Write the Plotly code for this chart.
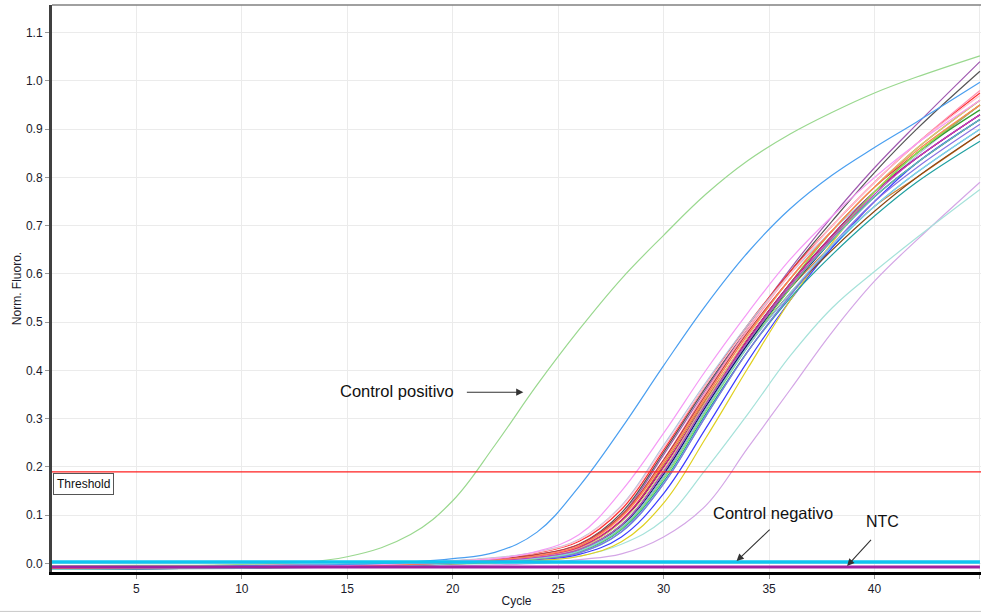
import plotly.graph_objects as go

cycles = [1, 5, 10, 15, 18, 20, 22, 24, 26, 28, 30, 32, 34, 36, 38, 40, 42, 45]

positive_control = [-0.005, -0.004, -0.002, 0.014, 0.06, 0.13, 0.245, 0.37, 0.485, 0.59, 0.68, 0.765, 0.835, 0.89, 0.935, 0.975, 1.008, 1.052]
blue_sample = [-0.006, -0.005, -0.004, -0.002, 0.003, 0.010, 0.023, 0.065, 0.16, 0.28, 0.41, 0.535, 0.645, 0.735, 0.805, 0.862, 0.915, 0.997]
pink_sample = [-0.008, -0.007, -0.006, -0.004, 0.000, 0.004, 0.010, 0.025, 0.06, 0.15, 0.27, 0.40, 0.52, 0.63, 0.72, 0.80, 0.87, 0.96]
teal_late = [-0.010, -0.009, -0.008, -0.006, -0.004, -0.002, 0.000, 0.005, 0.015, 0.04, 0.09, 0.195, 0.31, 0.43, 0.53, 0.605, 0.675, 0.775]
lavender_late = [-0.012, -0.011, -0.010, -0.008, -0.006, -0.005, -0.003, 0.000, 0.008, 0.02, 0.055, 0.12, 0.24, 0.36, 0.48, 0.585, 0.67, 0.79]

cluster_values = {
    "#a05ab0": [-0.010, -0.009, -0.007, -0.004, -0.001, 0.003, 0.008, 0.016, 0.037, 0.100, 0.225, 0.36, 0.49, 0.61, 0.72, 0.82, 0.91, 1.04],
    "#555555": [-0.008, -0.007, -0.006, -0.003, 0.000, 0.004, 0.009, 0.018, 0.040, 0.105, 0.23, 0.365, 0.49, 0.605, 0.71, 0.81, 0.90, 1.02],
    "#ff3030": [-0.006, -0.005, -0.004, -0.002, 0.001, 0.005, 0.011, 0.022, 0.046, 0.112, 0.235, 0.37, 0.495, 0.605, 0.70, 0.79, 0.87, 0.975],
    "#ff8fb0": [-0.009, -0.008, -0.006, -0.004, -0.001, 0.003, 0.008, 0.017, 0.038, 0.100, 0.215, 0.355, 0.485, 0.60, 0.70, 0.79, 0.87, 0.98],
    "#ffa07a": [-0.011, -0.010, -0.008, -0.005, -0.002, 0.002, 0.007, 0.015, 0.035, 0.095, 0.21, 0.345, 0.475, 0.59, 0.69, 0.78, 0.86, 0.96],
    "#b0c4de": [-0.007, -0.006, -0.005, -0.002, 0.001, 0.006, 0.012, 0.024, 0.050, 0.120, 0.245, 0.375, 0.495, 0.60, 0.69, 0.77, 0.845, 0.95],
    "#c04040": [-0.009, -0.008, -0.007, -0.004, 0.000, 0.004, 0.010, 0.019, 0.040, 0.100, 0.215, 0.35, 0.48, 0.59, 0.69, 0.78, 0.85, 0.95],
    "#d08030": [-0.010, -0.009, -0.008, -0.005, -0.002, 0.002, 0.007, 0.015, 0.034, 0.090, 0.205, 0.34, 0.465, 0.57, 0.66, 0.74, 0.80, 0.89],
    "#000000": [-0.012, -0.011, -0.009, -0.006, -0.003, 0.001, 0.006, 0.014, 0.032, 0.088, 0.20, 0.335, 0.465, 0.58, 0.68, 0.77, 0.84, 0.93],
    "#9acd32": [-0.010, -0.009, -0.008, -0.005, -0.002, 0.001, 0.005, 0.011, 0.026, 0.075, 0.18, 0.32, 0.455, 0.58, 0.69, 0.78, 0.86, 0.96],
    "#30a030": [-0.009, -0.008, -0.007, -0.005, -0.002, 0.002, 0.006, 0.013, 0.029, 0.080, 0.19, 0.33, 0.46, 0.58, 0.68, 0.77, 0.85, 0.94],
    "#000080": [-0.011, -0.010, -0.008, -0.006, -0.003, 0.000, 0.005, 0.011, 0.027, 0.077, 0.185, 0.325, 0.455, 0.57, 0.67, 0.76, 0.83, 0.92],
    "#e0109a": [-0.008, -0.007, -0.006, -0.004, -0.001, 0.003, 0.008, 0.015, 0.033, 0.090, 0.20, 0.335, 0.465, 0.58, 0.68, 0.77, 0.84, 0.93],
    "#30c0d0": [-0.010, -0.009, -0.008, -0.005, -0.002, 0.001, 0.004, 0.009, 0.022, 0.065, 0.165, 0.305, 0.44, 0.555, 0.655, 0.74, 0.81, 0.90],
    "#3a3aff": [-0.012, -0.011, -0.009, -0.007, -0.004, -0.001, 0.003, 0.008, 0.019, 0.055, 0.145, 0.28, 0.42, 0.545, 0.655, 0.75, 0.83, 0.92],
    "#e0d020": [-0.011, -0.010, -0.009, -0.007, -0.004, -0.001, 0.002, 0.006, 0.015, 0.045, 0.125, 0.26, 0.405, 0.545, 0.665, 0.77, 0.85, 0.95],
    "#20a0a0": [-0.010, -0.009, -0.008, -0.006, -0.003, 0.000, 0.004, 0.010, 0.024, 0.070, 0.17, 0.31, 0.44, 0.55, 0.64, 0.72, 0.79, 0.875],
    "#8b4513": [-0.009, -0.008, -0.007, -0.005, -0.002, 0.001, 0.005, 0.011, 0.026, 0.075, 0.18, 0.32, 0.45, 0.56, 0.65, 0.73, 0.80, 0.89],
    "#8a70e0": [-0.011, -0.010, -0.009, -0.006, -0.003, 0.000, 0.004, 0.009, 0.022, 0.066, 0.165, 0.305, 0.44, 0.555, 0.66, 0.75, 0.82, 0.91],
    "#e0c080": [-0.008, -0.007, -0.006, -0.004, -0.001, 0.002, 0.007, 0.014, 0.031, 0.086, 0.195, 0.335, 0.47, 0.59, 0.69, 0.78, 0.86, 0.96],
    "#80e060": [-0.010, -0.009, -0.008, -0.006, -0.003, 0.000, 0.004, 0.010, 0.025, 0.072, 0.175, 0.315, 0.45, 0.57, 0.675, 0.77, 0.85, 0.95],
    "#66cdaa": [-0.012, -0.011, -0.010, -0.007, -0.004, 0.000, 0.005, 0.012, 0.028, 0.080, 0.19, 0.33, 0.46, 0.575, 0.67, 0.76, 0.83, 0.92],
    "#ffc0d0": [-0.007, -0.006, -0.005, -0.003, 0.000, 0.005, 0.011, 0.023, 0.049, 0.118, 0.24, 0.37, 0.49, 0.60, 0.70, 0.79, 0.87, 0.97],
    "#87ceeb": [-0.011, -0.010, -0.009, -0.006, -0.003, 0.000, 0.005, 0.011, 0.026, 0.075, 0.18, 0.32, 0.45, 0.56, 0.66, 0.74, 0.81, 0.90],
    "#c040c0": [-0.009, -0.008, -0.007, -0.005, -0.002, 0.002, 0.006, 0.013, 0.029, 0.080, 0.19, 0.33, 0.46, 0.575, 0.675, 0.765, 0.84, 0.93],
    "#ff7f50": [-0.010, -0.009, -0.008, -0.005, -0.002, 0.002, 0.007, 0.016, 0.036, 0.097, 0.21, 0.345, 0.475, 0.59, 0.69, 0.78, 0.855, 0.95],
}

negative_control = [0.003] * len(cycles)
ntc = [-0.007] * len(cycles)

threshold = 0.19
x_ticks = [5, 10, 15, 20, 25, 30, 35, 40, 45]
y_ticks = [0.0, 0.1, 0.2, 0.3, 0.4, 0.5, 0.6, 0.7, 0.8, 0.9, 1.0, 1.1]
y_tick_labels = ["0.0", "0.1", "0.2", "0.3", "0.4", "0.5", "0.6", "0.7", "0.8", "0.9", "1.0", "1.1"]

FONT = "Liberation Sans, Arial, sans-serif"

fig = go.Figure()

def add_curve(vals, color, width=1.2):
    fig.add_trace(go.Scatter(x=cycles, y=vals, mode="lines",
                             line=dict(color=color, width=width, shape="spline", smoothing=1.1),
                             hoverinfo="skip", showlegend=False))

add_curve(lavender_late, "#d4a6e6")
add_curve(teal_late, "#a6e2da")
for color, vals in cluster_values.items():
    add_curve(vals, color)
add_curve(pink_sample, "#f59af5")
add_curve(blue_sample, "#4a9ff0")
add_curve(positive_control, "#9ad88f")
add_curve(ntc, "#a020a0", 3)
add_curve(negative_control, "#10c4f0", 3.5)

fig.add_shape(type="line", xref="paper", x0=0, x1=1, yref="y", y0=threshold, y1=threshold,
              line=dict(color="#ff2020", width=1.2))
fig.add_shape(type="line", xref="paper", x0=0, x1=1, yref="paper", y0=1, y1=1,
              line=dict(color="#808080", width=1.5))
fig.add_shape(type="line", xref="paper", x0=-0.06, x1=1.01, yref="paper", y0=-0.0695, y1=-0.0695,
              line=dict(color="#c8c8c8", width=1))

fig.add_annotation(xref="paper", x=0.0015, yref="y", y=threshold, text="Threshold",
                   showarrow=False, xanchor="left", yanchor="top", yshift=-1,
                   font=dict(family=FONT, size=12, color="#111"),
                   bgcolor="white", bordercolor="#555", borderwidth=1, borderpad=3)

txt_font = dict(family=FONT, size=16.5, color="#111")
fig.add_annotation(x=17.35, y=0.357, text="Control positivo", showarrow=False, font=txt_font)
fig.add_annotation(x=23.35, y=0.355, ax=20.6, ay=0.355, axref="x", ayref="y", text="",
                   showarrow=True, arrowhead=2, arrowsize=1.3, arrowwidth=1.1, arrowcolor="#333")
fig.add_annotation(x=35.2, y=0.104, text="Control negativo", showarrow=False, font=txt_font)
fig.add_annotation(x=33.46, y=0.005, ax=35.1, ay=0.073, axref="x", ayref="y", text="",
                   showarrow=True, arrowhead=2, arrowsize=1.3, arrowwidth=1.1, arrowcolor="#333")
fig.add_annotation(x=40.4, y=0.087, text="NTC", showarrow=False,
                   font=dict(family=FONT, size=16, color="#111"))
fig.add_annotation(x=38.7, y=-0.005, ax=39.9, ay=0.052, axref="x", ayref="y", text="",
                   showarrow=True, arrowhead=2, arrowsize=1.3, arrowwidth=1.1, arrowcolor="#333")

fig.update_layout(
    width=981, height=613,
    margin=dict(l=52, r=0, t=5, b=41),
    paper_bgcolor="white", plot_bgcolor="white",
    font=dict(family=FONT, size=12, color="#1a1a2a"),
    showlegend=False,
)
fig.update_xaxes(range=[1, 45.05], tickvals=x_ticks, ticktext=[str(v) for v in x_ticks],
                 showgrid=True, gridcolor="#ebebeb", gridwidth=1,
                 showline=True, linecolor="#000000", linewidth=2.5,
                 ticks="outside", ticklen=4, tickcolor="#999",
                 zeroline=False, title=dict(text="Cycle", standoff=2, font=dict(size=12)),
                 tickfont=dict(size=12))
fig.update_yaxes(range=[-0.0176, 1.1573], tickvals=y_ticks, ticktext=y_tick_labels,
                 showgrid=True, gridcolor="#ebebeb", gridwidth=1,
                 showline=True, linecolor="#404040", linewidth=3,
                 ticks="outside", ticklen=4, tickcolor="#999",
                 zeroline=False, title=dict(text="Norm. Fluoro.", standoff=2, font=dict(size=12)),
                 tickfont=dict(size=12))

fig.write_html("out.html")
